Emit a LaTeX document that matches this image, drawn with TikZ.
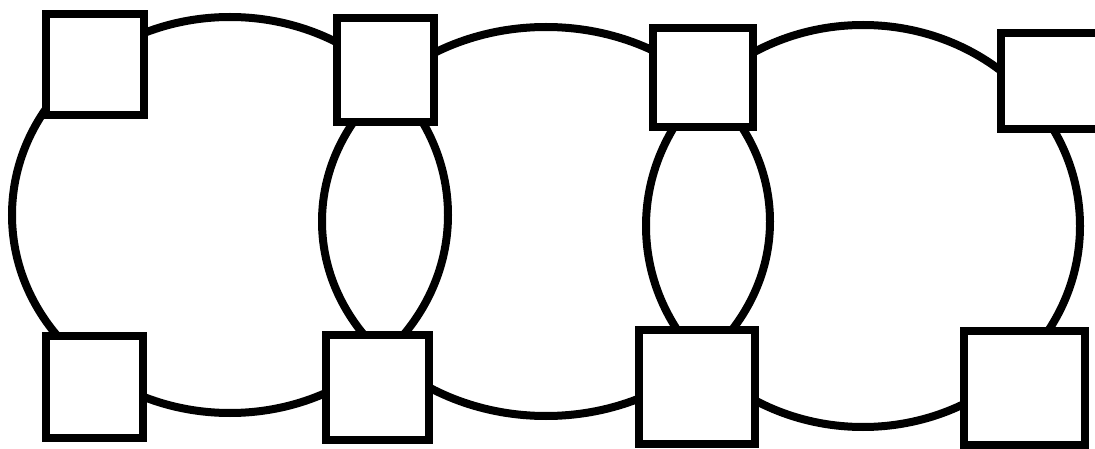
\documentclass[tikz,border=0pt]{standalone}
\usetikzlibrary{shapes.geometric}
\tikzset{
  ring/.style={draw=black, line width=8pt, ellipse, inner sep=0pt, outer sep=0pt},
  box/.style={draw=black, fill=white, line width=8.5pt, rectangle, inner sep=0pt, outer sep=0pt},
}
\begin{document}
\begin{tikzpicture}[x=1pt, y=-1pt]
\useasboundingbox (0,0) rectangle (1095,449);
\clip (0,0) rectangle (1095,449);
\fill[white] (0,0) rectangle (1095,449);
% circles
\node[ring, minimum width=436pt, minimum height=396pt] (c1) at (230,215) {};
\node[ring, minimum width=448pt, minimum height=389pt] (c2) at (546,221.5) {};
\node[ring, minimum width=434pt, minimum height=402pt] (c3) at (863,226) {};
% squares
\node[box, minimum width=98pt, minimum height=101pt] (s1) at (95,64.5) {};
\node[box, minimum width=97pt, minimum height=104pt] (s2) at (385.5,70) {};
\node[box, minimum width=100pt, minimum height=99pt] (s3) at (703,77.5) {};
\node[box, minimum width=98pt, minimum height=96pt] (s4) at (1050,81) {};
\node[box, minimum width=97pt, minimum height=102pt] (s5) at (94.5,387) {};
\node[box, minimum width=103pt, minimum height=105pt] (s6) at (377.5,387.5) {};
\node[box, minimum width=116pt, minimum height=114pt] (s7) at (697,387) {};
\node[box, minimum width=121pt, minimum height=114pt] (s8) at (1024.5,388) {};
\end{tikzpicture}
\end{document}
